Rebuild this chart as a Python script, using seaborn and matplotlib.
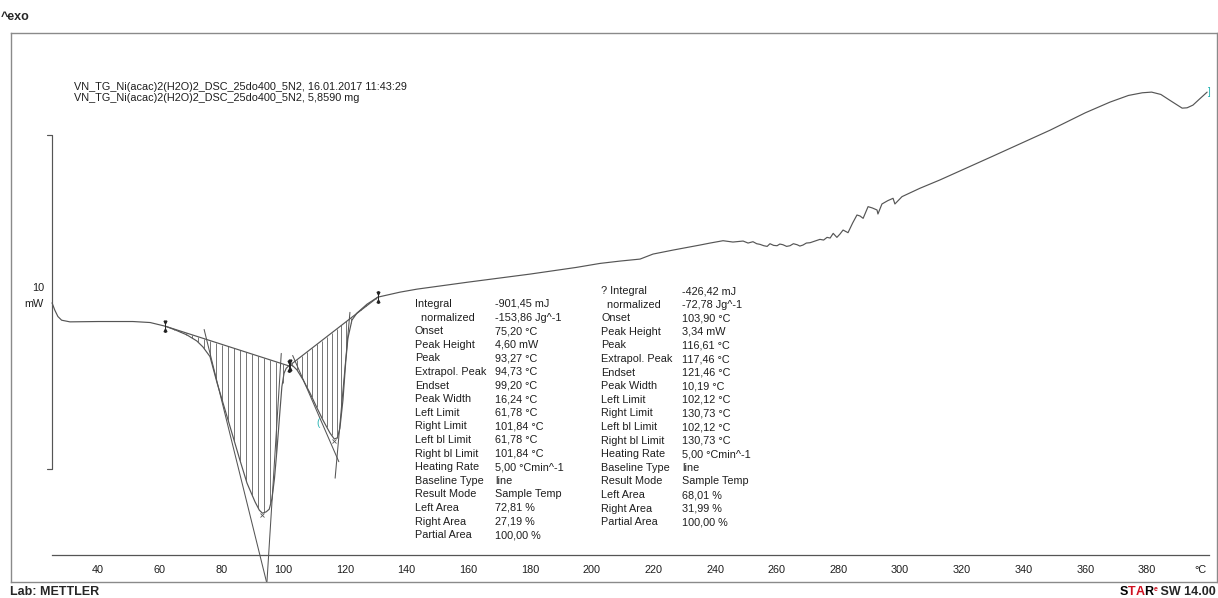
# ---------------------------------
# 1) IMPORT LIBRARIES
# ---------------------------------
import numpy as np
import pandas as pd
import matplotlib
matplotlib.use("Agg")
import matplotlib.pyplot as plt
import seaborn as sns

# ---------------------------------
# 2) DATA (read off the DSC print-out)
# ---------------------------------
# sample temperature in degC
temp = [25.1, 26.0, 27.0, 28.2, 30.9, 40.0, 51.3, 56.9, 61.8, 65.0,
        68.8, 72.0, 74.0, 76.3, 78.6, 81.2, 83.8, 86.0, 88.3, 90.9,
        92.3, 93.3, 94.5, 95.5, 96.4, 97.2, 98.0, 99.0, 99.6, 100.3,
        101.0, 101.8, 102.4, 103.2, 104.5, 106.5, 108.7, 111.0, 112.9, 115.2,
        116.6, 117.6, 118.4, 119.4, 120.3, 121.0, 122.3, 123.9, 127.2, 130.7,
        137.9, 143.4, 160.0, 180.0, 195.0, 202.7, 209.2, 215.7, 219.9, 226.4,
        235.1, 238.4, 242.6, 245.8, 249.1, 250.7, 252.3, 253.5, 254.6, 255.8,
        256.9, 257.8, 259.0, 260.1, 261.0, 262.0, 263.2, 264.3, 265.4, 266.6,
        267.5, 268.5, 269.6, 270.8, 272.4, 274.0, 275.2, 276.3, 277.3, 278.3,
        279.5, 280.5, 281.5, 283.1, 284.6, 286.0, 287.0, 288.0, 289.6, 291.0,
        292.5, 292.8, 294.1, 296.0, 297.7, 298.3, 300.6, 306.4, 312.9, 330.0,
        348.6, 360.0, 368.0, 374.0, 378.5, 381.5, 384.5, 387.5, 391.4, 393.0,
        394.9, 397.0, 399.5]
# heat flow in mW (exo up, arbitrary zero)
heat_flow = [0.56, 0.34, 0.15, 0.04, -0.01, 0.00, 0.00, -0.03, -0.14, -0.25,
             -0.40, -0.58, -0.76, -1.05, -1.84, -2.65, -3.46, -4.15, -4.84, -5.40,
             -5.65, -5.74, -5.70, -5.62, -5.30, -4.70, -3.85, -2.65, -1.95, -1.55,
             -1.40, -1.33, -1.30, -1.33, -1.45, -1.75, -2.14, -2.59, -2.95, -3.34,
             -3.52, -3.48, -3.20, -2.35, -1.20, -0.50, 0.04, 0.25, 0.52, 0.73,
             0.88, 0.97, 1.18, 1.42, 1.62, 1.74, 1.81, 1.87, 2.02, 2.14,
             2.29, 2.35, 2.42, 2.38, 2.41, 2.35, 2.39, 2.33, 2.31, 2.27,
             2.25, 2.33, 2.28, 2.27, 2.32, 2.30, 2.25, 2.27, 2.33, 2.30,
             2.26, 2.29, 2.35, 2.36, 2.41, 2.46, 2.44, 2.52, 2.50, 2.64,
             2.52, 2.62, 2.74, 2.66, 2.95, 3.19, 3.16, 3.09, 3.44, 3.40,
             3.34, 3.22, 3.52, 3.62, 3.69, 3.52, 3.74, 3.99, 4.24, 4.95,
             5.73, 6.25, 6.57, 6.77, 6.85, 6.87, 6.80, 6.62, 6.39, 6.40,
             6.48, 6.66, 6.87]

# peak evaluations
left_limit = [61.78, 102.12]
right_limit = [101.84, 130.73]
onset = [75.20, 103.90]
endset = [99.20, 121.46]
peak_temp = [93.27, 116.61]
extrap_peak = [94.73, 117.46]
extrap_peak_flow = [-7.84, -4.07]   # estimated where the tangents cross

# result tables
left_names = ["Integral", "  normalized", "Onset", "Peak Height", "Peak",
              "Extrapol. Peak", "Endset", "Peak Width", "Left Limit", "Right Limit",
              "Left bl Limit", "Right bl Limit", "Heating Rate", "Baseline Type",
              "Result Mode", "Left Area", "Right Area", "Partial Area"]
left_values = ["-901,45 mJ", "-153,86 Jg^-1", "75,20 °C", "4,60 mW", "93,27 °C",
               "94,73 °C", "99,20 °C", "16,24 °C", "61,78 °C", "101,84 °C",
               "61,78 °C", "101,84 °C", "5,00 °Cmin^-1", "line",
               "Sample Temp", "72,81 %", "27,19 %", "100,00 %"]
right_names = ["? Integral", "  normalized", "Onset", "Peak Height", "Peak",
               "Extrapol. Peak", "Endset", "Peak Width", "Left Limit", "Right Limit",
               "Left bl Limit", "Right bl Limit", "Heating Rate", "Baseline Type",
               "Result Mode", "Left Area", "Right Area", "Partial Area"]
right_values = ["-426,42 mJ", "-72,78 Jg^-1", "103,90 °C", "3,34 mW", "116,61 °C",
                "117,46 °C", "121,46 °C", "10,19 °C", "102,12 °C", "130,73 °C",
                "102,12 °C", "130,73 °C", "5,00 °Cmin^-1", "line",
                "Sample Temp", "68,01 %", "31,99 %", "100,00 %"]

header = ["VN_TG_Ni(acac)2(H2O)2_DSC_25do400_5N2, 16.01.2017 11:43:29",
          "VN_TG_Ni(acac)2(H2O)2_DSC_25do400_5N2, 5,8590 mg"]

major_ticks = list(range(40, 381, 20))
minor_ticks = list(range(30, 401, 10))

df = pd.DataFrame({"temp": temp, "heat_flow": heat_flow})

# ---------------------------------
# 3) STYLE
# ---------------------------------
sns.set_style("white")
plt.rcParams["font.family"] = ["Liberation Sans", "DejaVu Sans"]
line_col = "#555555"
frame_col = "#8a8a8a"
text_col = "#1e1e1e"
fs = 7.8

W, H = 1218, 598
fig = plt.figure(figsize=(W / 100, H / 100), dpi=100)


def fx(px):
    return px / W


def fy(py):
    return 1 - py / H


# frame axes (holds the curve)
ax = fig.add_axes([fx(11), fy(582), fx(1217) - fx(11), fy(33) - fy(582)])
ax.set_xlim(11.8, 402.7)
ax.set_ylim(-7.80, 8.64)
ax.set_xticks([])
ax.set_yticks([])
for s in ax.spines.values():
    s.set_color(frame_col)
    s.set_linewidth(1.0)

# ---------------------------------
# 4) CURVE + EVALUATIONS
# ---------------------------------
sns.lineplot(data=df, x="temp", y="heat_flow", ax=ax, color=line_col,
             linewidth=0.85, estimator=None, sort=False)
ax.set_xlabel("")
ax.set_ylabel("")

hatch_step = [1.95, 1.6]
t_arr = np.array(temp)
f_arr = np.array(heat_flow)
for i in range(len(left_limit)):
    lo, hi = left_limit[i], right_limit[i]
    ylo = np.interp(lo, t_arr, f_arr)
    yhi = np.interp(hi, t_arr, f_arr)

    def base(t):
        return ylo + (np.asarray(t) - lo) / (hi - lo) * (yhi - ylo)

    xs = np.arange(lo + hatch_step[i] / 2, hi, hatch_step[i])
    ax.vlines(xs, base(xs), np.interp(xs, t_arr, f_arr), color="#5e5e5e", linewidth=0.6)
    ax.plot([lo, hi], [ylo, yhi], color=line_col, linewidth=0.85)

    # tangents through onset / endset meeting at the extrapolated peak
    xp, yp = extrap_peak[i], extrap_peak_flow[i]
    k1 = (yp - base(onset[i])) / (xp - onset[i])
    x1 = np.array([onset[i] - 0.8, xp + 0.6])
    ax.plot(x1, base(onset[i]) + k1 * (x1 - onset[i]), color=line_col, linewidth=0.75)
    k2 = (yp - base(endset[i])) / (xp - endset[i])
    x2 = np.array([xp - 0.6, endset[i] + 0.2])
    ax.plot(x2, base(endset[i]) + k2 * (x2 - endset[i]), color=line_col, linewidth=0.75)

    # peak marker
    ax.plot(peak_temp[i], np.interp(peak_temp[i], t_arr, f_arr) - 0.05, marker="x",
            markersize=3.5, color=line_col, markeredgewidth=0.6)

# limit markers
for t in left_limit + right_limit:
    y = np.interp(t, t_arr, f_arr)
    ax.plot([t, t], [y - 0.17, y + 0.17], color="#222222", linewidth=0.7)
    ax.plot([t], [y + 0.12], marker="v", markersize=2.0, color="#222222")
    ax.plot([t], [y - 0.12], marker="^", markersize=2.0, color="#222222")

# cursor marks
ax.text(111.3, np.interp(111.3, t_arr, f_arr) - 0.4, "(", color="#27b3b3",
        fontsize=7, ha="center", va="center")
ax.text(temp[-1] + 0.3, heat_flow[-1], "]", color="#27b3b3", fontsize=7,
        ha="left", va="center")

# 10 mW scale bar
bar_x, bar_lo, bar_len = 25.1, -4.42, 10
ax.plot([bar_x - 1.6, bar_x, bar_x, bar_x - 1.6],
        [bar_lo, bar_lo, bar_lo + bar_len, bar_lo + bar_len], color=line_col, linewidth=0.85)
ax.text(22.5, 1.00, "10", fontsize=fs, ha="right", va="center", color=text_col)
ax.text(22.5, 0.52, "mW", fontsize=fs, ha="right", va="center", color=text_col)

# ---------------------------------
# 5) TEMPERATURE AXIS
# ---------------------------------
x0, x1 = ax.get_xlim()
l, b, w, h = ax.get_position().bounds


def t2fx(t):
    return l + (t - x0) / (x1 - x0) * w


ax2 = fig.add_axes([t2fx(25), fy(555), t2fx(400) - t2fx(25), 0.001])
ax2.set_xlim(25, 400)
ax2.patch.set_visible(False)
for k in ["top", "left", "right"]:
    ax2.spines[k].set_visible(False)
ax2.spines["bottom"].set_color("#555555")
ax2.spines["bottom"].set_linewidth(0.9)
ax2.set_yticks([])
ax2.set_xticks(major_ticks)
ax2.set_xticks(minor_ticks, minor=True)
ax2.tick_params(axis="x", which="both", direction="in", length=3, width=0.8,
                color="#555555", labelsize=fs, labelcolor=text_col, pad=7)
ax2.annotate("°C", xy=(397.3, 0), xycoords=("data", "axes fraction"),
             xytext=(0, -7), textcoords="offset points", ha="center", va="top",
             fontsize=fs, color=text_col)

# ---------------------------------
# 6) TEXT BLOCKS
# ---------------------------------
fig.text(fx(1), fy(17), "^exo", fontsize=9, fontweight="bold", ha="left", va="center")
for j, line in enumerate(header):
    fig.text(fx(74), fy(87 + j * 11.5), line, fontsize=fs, ha="left", va="center", color=text_col)

row_h = 13.6
for j in range(len(left_names)):
    fig.text(fx(415), fy(304 + j * row_h), left_names[j], fontsize=fs, va="center", color=text_col)
    fig.text(fx(495), fy(304 + j * row_h), left_values[j], fontsize=fs, va="center", color=text_col)
for j in range(len(right_names)):
    fig.text(fx(601), fy(291 + j * row_h), right_names[j], fontsize=fs, va="center", color=text_col)
    fig.text(fx(682), fy(291 + j * row_h), right_values[j], fontsize=fs, va="center", color=text_col)

fig.text(fx(10), fy(592), "Lab: METTLER", fontsize=9, fontweight="bold", ha="left", va="center")
sw = fig.text(fx(1216), fy(592), " SW 14.00", fontsize=9, fontweight="bold", ha="right", va="center")
sup = ax.annotate("e", xy=(0, 1), xycoords=sw, ha="right", va="top", fontsize=5,
                  fontweight="bold", color="#d01020")
prev = sup
for ch, col in [("R", "black"), ("A", "#d01020"), ("T", "#d01020"), ("S", "black")]:
    xyc = (prev, sw) if prev is sup else prev
    prev = ax.annotate(ch, xy=(0, 0), xycoords=xyc, ha="right", va="bottom",
                       fontsize=9, fontweight="bold", color=col)

fig.savefig("out.png", dpi=100)
